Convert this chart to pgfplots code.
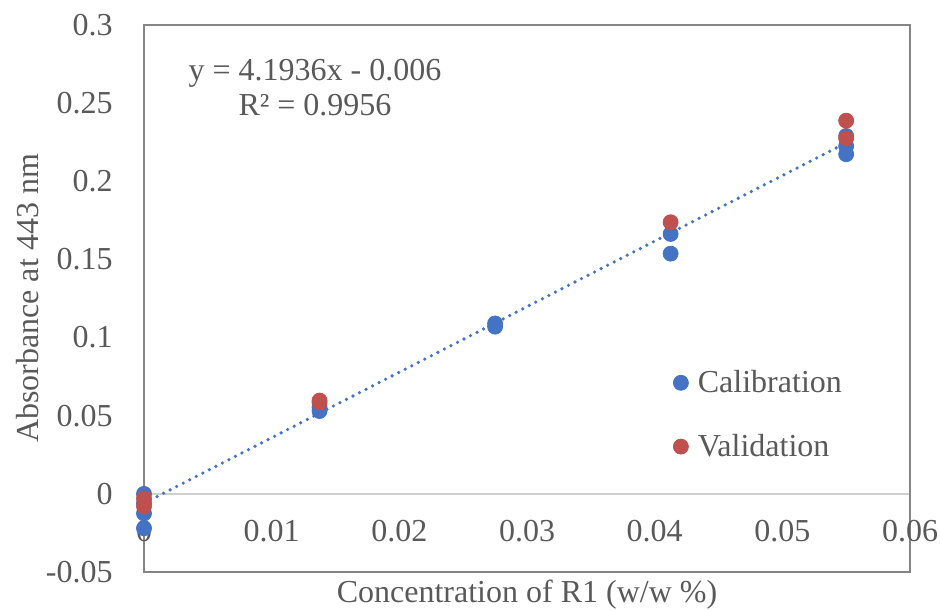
\documentclass[border=0pt]{standalone}
\usepackage{fontspec}
\setmainfont{Liberation Serif}
\usepackage{pgfplots}
\pgfplotsset{compat=1.18}
\definecolor{cal}{HTML}{4472C4}
\definecolor{val}{HTML}{C0504D}
\definecolor{txt}{HTML}{595959}
\definecolor{frm}{HTML}{858585}
\definecolor{zer}{HTML}{D0D0D0}
\begin{document}
\begin{tikzpicture}
\begin{axis}[
  set layers=standard,
  at={(0,0)}, anchor=south west,
  scale only axis, width=383pt, height=273.5pt,
  xmin=0, xmax=0.06, ymin=-0.05, ymax=0.3,
  scaled x ticks=false, scaled y ticks=false,
  axis line style={frm, line width=1pt},
  major tick length=0pt,
  xtick={0,0.01,0.02,0.03,0.04,0.05,0.06},
  xticklabels={0,0.01,0.02,0.03,0.04,0.05,0.06},
  ytick={-0.05,0,0.05,0.1,0.15,0.2,0.25,0.3},
  yticklabels={-0.05,0,0.05,0.1,0.15,0.2,0.25,0.3},
  extra y ticks={0},
  extra y tick labels={},
  extra y tick style={grid=major, major grid style={zer, line width=1pt}},
  ticklabel style={font=\fontsize{16}{19}\selectfont, text=txt, inner sep=0pt},
  xticklabel style={anchor=center, yshift=20.5pt},
  yticklabel style={anchor=east, xshift=-15.5pt},
  xlabel={Concentration of R1 (w/w \%)},
  ylabel={Absorbance at 443 nm},
  label style={font=\fontsize{16}{19}\selectfont, text=txt, inner sep=0pt},
  xlabel style={at={(axis description cs:0.5,-0.0421)}, anchor=center},
  ylabel style={at={(axis description cs:-0.1514,0.5)}, anchor=center},
  legend style={draw=none, fill=none, inner sep=0pt, at={(0.6906,0.3693)}, anchor=north west,
    font=\fontsize{16}{19}\selectfont, text=txt, row sep=19.3pt, column sep=4.75pt,
    nodes={inner sep=0pt}},
  legend cell align=left,
  legend image code/.code={\draw[mark repeat=2,mark phase=2,#1] plot coordinates {(-0.1pt,0.1pt) (0pt,0.1pt) (0.1pt,0.1pt)};},
]
\addplot[cal, line width=1.8pt, dash pattern=on 0pt off 3.67pt, line cap=round, forget plot]
  coordinates {(0,-0.006) (0.055,0.2246)};
\addplot[only marks, mark=*, mark size=3.75pt, color=cal, fill=cal]
  coordinates {
  (0,0) (0,-0.006) (0,-0.0125) (0,-0.022)
  (0.01375,0.053) (0.01375,0.0555)
  (0.0275,0.107) (0.0275,0.109)
  (0.04125,0.1663) (0.04125,0.1537)
  (0.055,0.2173) (0.055,0.2225) (0.055,0.229)
  };
\addlegendentry{Calibration}
\addplot[only marks, mark=*, mark size=3.75pt, color=val, fill=val]
  coordinates {
  (0,-0.003) (0,-0.008)
  (0.01375,0.0585) (0.01375,0.0597)
  (0.04125,0.1738)
  (0.055,0.2275) (0.055,0.2388)
  };
\addlegendentry{Validation}
\node[align=center, inner sep=0pt, text=txt, font=\fontsize{16}{17.5}\selectfont]
  at (axis cs:0.013394,0.2597) {y = 4.1936x - 0.006\\R² = 0.9956};
\end{axis}
\useasboundingbox (-72pt,-19pt) rectangle (398pt,286pt);
\end{tikzpicture}
\end{document}
